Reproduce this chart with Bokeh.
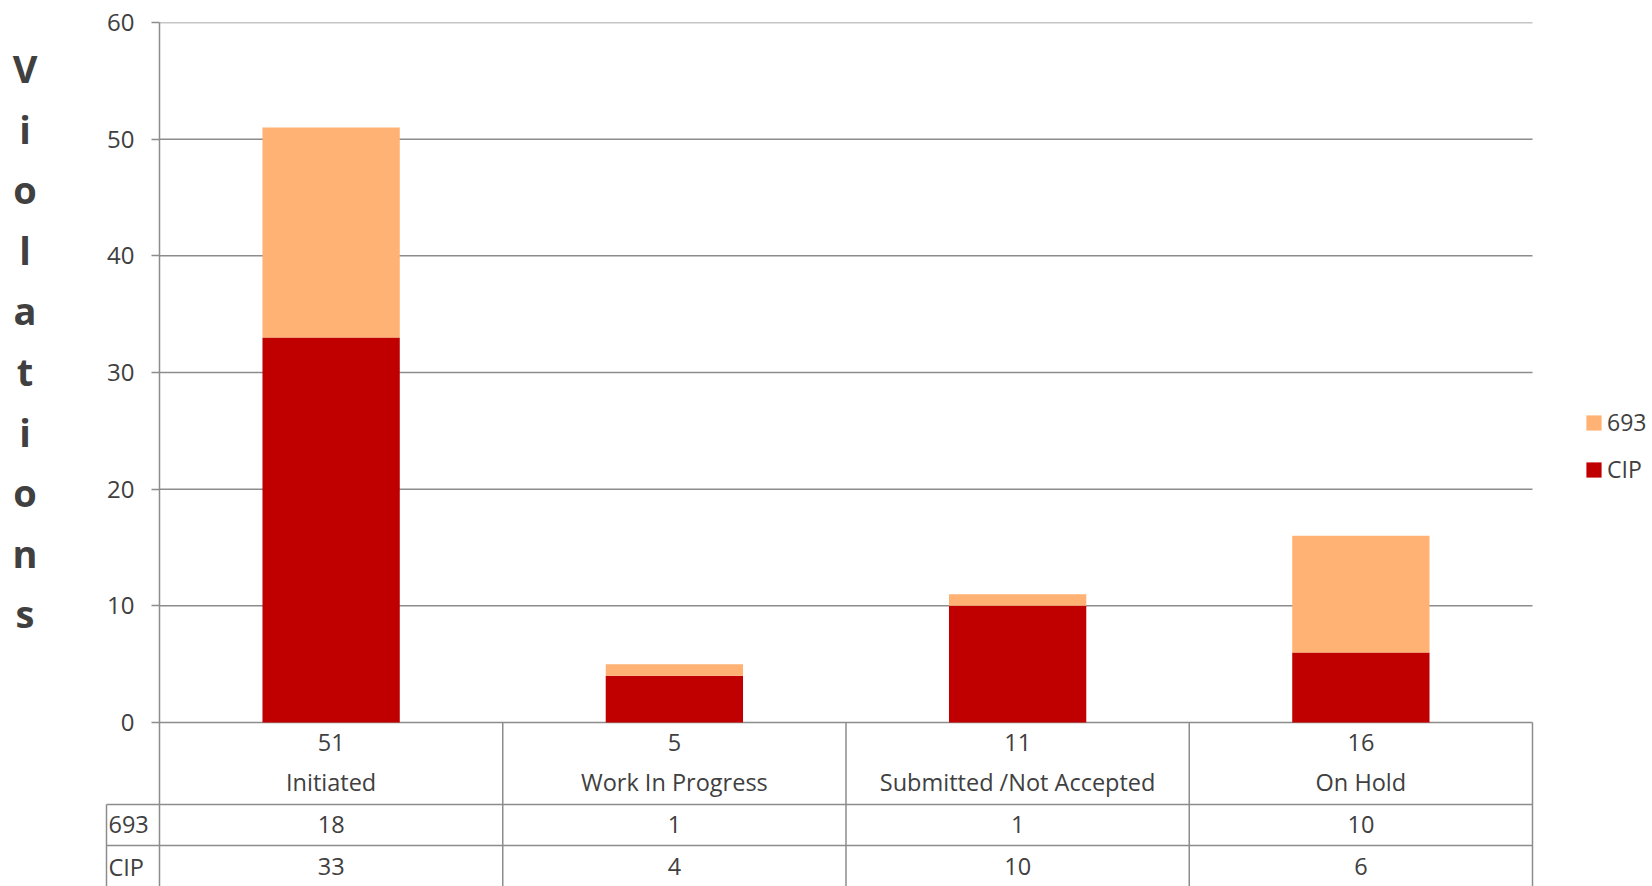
from bokeh.plotting import figure
from bokeh.models import Range1d, FixedTicker, Legend, LegendItem, ColumnDataSource
from bokeh.core.properties import value
from bokeh.embed import file_html
from bokeh.resources import INLINE

# ---- data ----
categories = ["Initiated", "Work In Progress", "Submitted /Not Accepted", "On Hold"]
series_names = ["693", "CIP"]
values_693 = [18, 1, 1, 10]
values_cip = [33, 4, 10, 6]
y_ticks = [0, 10, 20, 30, 40, 50, 60]
title_text = "Violations"

# ---- style ----
C693 = "#FFB273"
CCIP = "#C00000"
TXT = "#404040"
LINE = "#8c8c8c"
FONT = "Open Sans"

W, H = 1652, 886
FRAME_L, FRAME_T = 159, 22
CAT_W_PX = 1373.0              # width of the category area
ppu_x = CAT_W_PX / len(categories)
ppu_y = 700 / 60.0             # pixels per y unit
y_end = 60
y_start = y_end - (H - FRAME_T) / ppu_y
x_end = (W - FRAME_L) / ppu_x


def ydat(px_below_zero):
    return -px_below_zero / ppu_y


def xdat(px_from_left):
    return px_from_left / ppu_x


p = figure(width=W, height=H, output_backend="svg", toolbar_location=None,
           x_range=Range1d(0, x_end), y_range=Range1d(y_start, y_end),
           x_axis_type=None,
           min_border_left=FRAME_L, min_border_right=0,
           min_border_top=FRAME_T, min_border_bottom=0)
p.outline_line_color = None
p.background_fill_color = "white"
p.border_fill_color = "white"
p.ygrid.grid_line_color = None

# y axis
ax = p.yaxis[0]
ax.ticker = FixedTicker(ticks=y_ticks)
ax.major_tick_in = 0
ax.major_tick_out = 8
ax.minor_tick_line_color = None
ax.major_tick_line_color = LINE
ax.major_tick_line_width = 1.5
ax.axis_line_color = LINE
ax.axis_line_width = 1.5
ax.major_label_text_font = FONT
ax.major_label_text_font_size = "24px"
ax.major_label_text_color = TXT
ax.major_label_standoff = 17

ncat = len(categories)
# horizontal gridlines over the category area
p.segment(x0=[0] * len(y_ticks), y0=y_ticks, x1=[ncat] * len(y_ticks), y1=y_ticks,
          line_color=LINE, line_width=1.5, level="underlay")

# bars
xc = [i + 0.5 for i in range(ncat)]
totals = [a + b for a, b in zip(values_693, values_cip)]
src = ColumnDataSource(dict(x=xc, cat=categories, CIP=values_cip, s693=values_693,
                            tot=[str(t) for t in totals],
                            l693=[str(v) for v in values_693],
                            lcip=[str(v) for v in values_cip]))
rs = p.vbar_stack(["CIP", "s693"], x="x", width=0.4, color=[CCIP, C693],
                  line_color=None, source=src)

# table geometry
row1 = ydat(82)     # header / 693
row2 = ydat(123)    # 693 / CIP
bottom = ydat(175)
hdr_left = xdat(-53)

xs0, ys0, xs1, ys1 = [], [], [], []
for k in range(1, ncat + 1):
    xs0.append(k); ys0.append(0); xs1.append(k); ys1.append(bottom)
for yy in (row1, row2):
    xs0.append(hdr_left); ys0.append(yy); xs1.append(ncat); ys1.append(yy)
xs0.append(hdr_left); ys0.append(row1); xs1.append(hdr_left); ys1.append(bottom)
p.segment(x0=xs0, y0=ys0, x1=xs1, y1=ys1, line_color=LINE, line_width=1.5,
          level="overlay")

tk = dict(text_font=value(FONT), text_font_size="23.5px", text_color=TXT,
          text_align="center", text_baseline="middle", level="overlay")
p.text(x="x", y=ydat(20), text="tot", source=src, **tk)
p.text(x="x", y=ydat(59), text="cat", source=src, **tk)
p.text(x="x", y=ydat(102), text="l693", source=src, **tk)
p.text(x="x", y=ydat(144), text="lcip", source=src, **tk)

# row headers
p.text(x=[xdat(-51), xdat(-51)], y=[ydat(102), ydat(144)], text=series_names,
       text_font=value(FONT), text_font_size="23.5px", text_color=TXT,
       text_align="left", text_baseline="middle", level="overlay")

# stacked vertical title
letters = list(title_text)
base0 = 722 - 67.5
step = 60.6
p.text(x=[xdat(24.5 - FRAME_L)] * len(letters),
       y=[(base0 - i * step) / ppu_y for i in range(len(letters))],
       text=letters, text_font=value(FONT), text_font_style="bold",
       text_font_size="38px", text_color=TXT, text_align="center",
       text_baseline="alphabetic", level="overlay")

# legend
legend = Legend(items=[LegendItem(label=series_names[0], renderers=[rs[1]]),
                       LegendItem(label=series_names[1], renderers=[rs[0]])],
                location=(1584 - FRAME_L, 401))
legend.glyph_width = 19
legend.glyph_height = 19
legend.label_text_font = FONT
legend.label_text_font_size = "23px"
legend.label_text_color = TXT
legend.label_standoff = 4
legend.label_height = 24
legend.spacing = 15
legend.padding = 0
legend.margin = 0
legend.border_line_color = None
legend.background_fill_alpha = 0
p.add_layout(legend)

open("out.html", "w").write(file_html(p, INLINE))
